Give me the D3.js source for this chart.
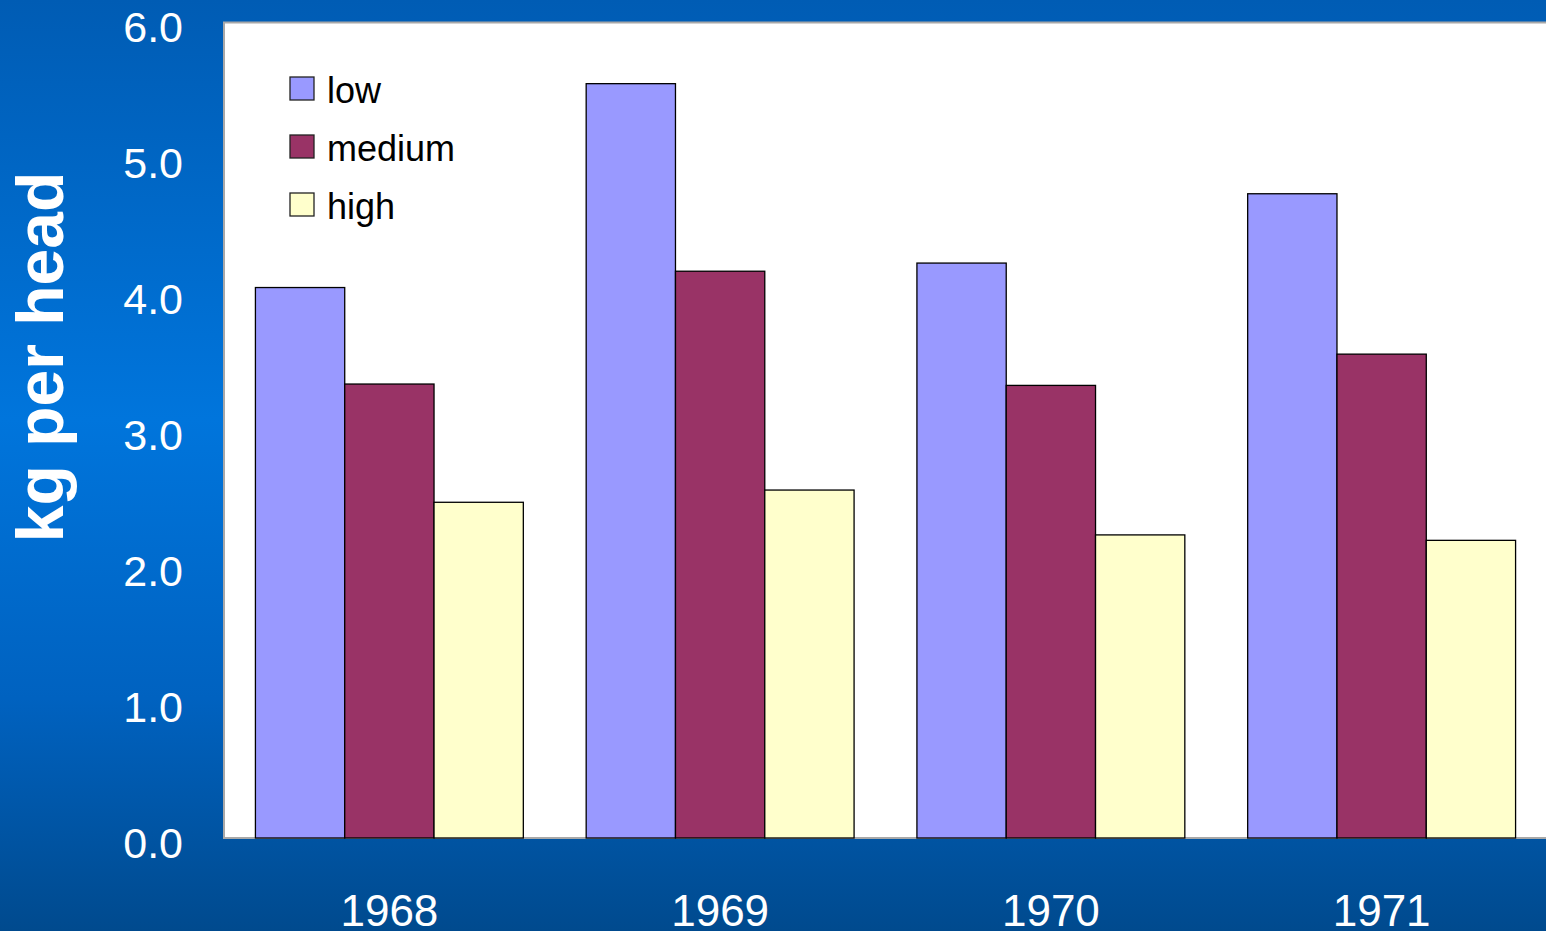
<!DOCTYPE html>
<html><head><meta charset="utf-8">
<script src="https://cdn.jsdelivr.net/npm/d3@7"></script>
<style>html,body{margin:0;padding:0;overflow:hidden;}svg{display:block;}</style>
</head><body>
<script>
const categories = ["1968", "1969", "1970", "1971"];
const seriesNames = ["low", "medium", "high"];
const lowValues = [4.05, 5.55, 4.23, 4.74];
const mediumValues = [3.34, 4.17, 3.33, 3.56];
const highValues = [2.47, 2.56, 2.23, 2.19];
const yTicks = [0, 1, 2, 3, 4, 5, 6];
const yLabel = "kg per head";
const colors = ["#9999ff", "#993366", "#ffffcc"];

const W = 1546, H = 931;
const plot = {left: 224, right: 1547, top: 22.5, bottom: 838};
const seriesValues = [lowValues, mediumValues, highValues];

const svg = d3.select("body").append("svg").attr("width", W).attr("height", H);
const defs = svg.append("defs");
const grad = defs.append("linearGradient").attr("id", "bg").attr("x1", 0).attr("y1", 0).attr("x2", 0).attr("y2", 1);
grad.append("stop").attr("offset", "0%").attr("stop-color", "#005cb4");
grad.append("stop").attr("offset", "45%").attr("stop-color", "#0075dc");
grad.append("stop").attr("offset", "75%").attr("stop-color", "#0062c0");
grad.append("stop").attr("offset", "100%").attr("stop-color", "#004a8e");
svg.append("rect").attr("width", W).attr("height", H).attr("fill", "url(#bg)");

const x0 = d3.scaleBand().domain(categories).range([plot.left, plot.right]).paddingInner(0.19).paddingOuter(0.095);
const x1 = d3.scaleBand().domain(seriesNames).range([0, x0.bandwidth()]);
const y = d3.scaleLinear().domain([0, 6]).range([plot.bottom, plot.top]);

svg.append("rect").attr("x", plot.left).attr("y", plot.top).attr("width", plot.right - plot.left + 5)
  .attr("height", plot.bottom - plot.top).attr("fill", "#ffffff").attr("stroke", "#a8a8a8").attr("stroke-width", 2);

const groups = svg.append("g").selectAll("g").data(categories).join("g")
  .attr("transform", d => `translate(${x0(d)},0)`);
groups.selectAll("rect").data((d, i) => seriesNames.map((s, j) => ({s, v: seriesValues[j][i], j})))
  .join("rect")
  .attr("x", d => x1(d.s)).attr("width", x1.bandwidth())
  .attr("y", d => y(d.v)).attr("height", d => y(0) - y(d.v))
  .attr("fill", d => colors[d.j]).attr("stroke", "#000").attr("stroke-width", 1.3);

// y axis labels
const yAxis = d3.axisLeft(y).tickValues(yTicks).tickFormat(d3.format(".1f")).tickSize(0).tickPadding(0);
const ya = svg.append("g").attr("transform", "translate(183,0)").call(yAxis);
ya.select(".domain").remove();
ya.selectAll("text").attr("fill", "#ffffff").attr("font-family", "Liberation Sans, Arial, sans-serif")
  .attr("font-size", 43).attr("dy", "0.45em").attr("text-anchor", "end");

// x axis labels
const xAxis = d3.axisBottom(x0).tickSize(0).tickPadding(0);
const xa = svg.append("g").attr("transform", "translate(0,926)").call(xAxis);
xa.select(".domain").remove();
xa.selectAll("text").attr("fill", "#ffffff").attr("font-family", "Liberation Sans, Arial, sans-serif")
  .attr("font-size", 44).attr("dy", 0).attr("y", 0);

// y title
svg.append("text").attr("transform", "translate(63,357) rotate(-90)").attr("text-anchor", "middle")
  .attr("fill", "#ffffff").attr("font-family", "Liberation Sans, Arial, sans-serif")
  .attr("font-weight", "bold").attr("font-size", 66).text(yLabel);

// legend
const lg = svg.append("g").selectAll("g").data(seriesNames).join("g")
  .attr("transform", (d, i) => `translate(290,${77 + i * 58})`);
lg.append("rect").attr("width", 24).attr("height", 23).attr("fill", (d, i) => colors[i])
  .attr("stroke", "#222").attr("stroke-width", 1.3);
lg.append("text").attr("x", 37).attr("y", 26).attr("font-family", "Liberation Sans, Arial, sans-serif")
  .attr("font-size", 36).attr("fill", "#000").text(d => d);
</script>
</body></html>
